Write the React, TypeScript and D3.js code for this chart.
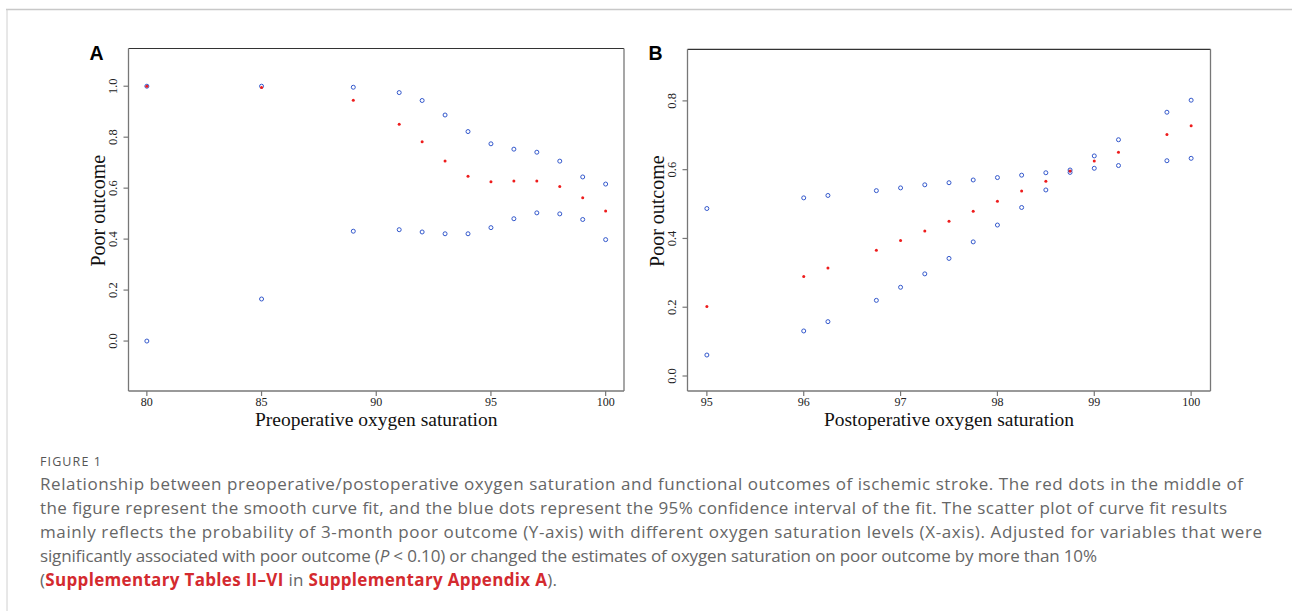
import React from "react";
import * as d3 from "d3";

// Panel A: preoperative oxygen saturation
const preX = [80, 85, 89, 91, 92, 93, 94, 95, 96, 97, 98, 99, 100];
const preFit = [1.0, 0.995, 0.945, 0.851, 0.782, 0.707, 0.647, 0.625, 0.628, 0.628, 0.606, 0.562, 0.51];
const preUpper = [1.0, 1.0, 0.996, 0.975, 0.944, 0.887, 0.822, 0.774, 0.753, 0.741, 0.706, 0.644, 0.616];
const preLower = [0.0, 0.165, 0.431, 0.437, 0.428, 0.421, 0.421, 0.445, 0.48, 0.503, 0.499, 0.477, 0.398];
const preTicksX = [80, 85, 90, 95, 100];
const preTicksY = [0, 0.2, 0.4, 0.6, 0.8, 1.0];

// Panel B: postoperative oxygen saturation
const postX = [95, 96, 96.25, 96.75, 97, 97.25, 97.5, 97.75, 98, 98.25, 98.5, 98.75, 99, 99.25, 99.75, 100];
const postFit = [0.202, 0.289, 0.314, 0.366, 0.394, 0.422, 0.45, 0.479, 0.508, 0.538, 0.566, 0.596, 0.625, 0.651, 0.702, 0.728];
const postUpper = [0.487, 0.518, 0.525, 0.539, 0.547, 0.556, 0.562, 0.57, 0.577, 0.584, 0.591, 0.599, 0.64, 0.687, 0.767, 0.802];
const postLower = [0.061, 0.131, 0.158, 0.22, 0.258, 0.297, 0.342, 0.39, 0.439, 0.49, 0.541, 0.592, 0.604, 0.612, 0.626, 0.633];
const postTicksX = [95, 96, 97, 98, 99, 100];
const postTicksY = [0, 0.2, 0.4, 0.6, 0.8];

const BLUE = "#3358cc";
const RED = "#ee1c1c";
const SERIF = "'Liberation Serif', 'Times New Roman', serif";

type PanelProps = {
  label: string;
  xs: number[];
  fit: number[];
  upper: number[];
  lower: number[];
  xDomain: [number, number];
  yDomain: [number, number];
  xTicks: number[];
  yTicks: number[];
  box: { left: number; right: number; top: number; bottom: number };
  xTitle: string;
};

const Panel = ({ label, xs, fit, upper, lower, xDomain, yDomain, xTicks, yTicks, box, xTitle }: PanelProps) => {
  const x = d3.scaleLinear().domain(xDomain).range([box.left, box.right]);
  const y = d3.scaleLinear().domain(yDomain).range([box.bottom, box.top]);
  const midX = (box.left + box.right) / 2;
  const midY = (box.top + box.bottom) / 2;

  return (
    <g>
      <text x={box.left - 39} y={box.top + 11} fontFamily="'Liberation Sans', Arial, sans-serif" fontWeight="bold" fontSize={19.5} fill="#000">
        {label}
      </text>

      {/* frame */}
      <line x1={box.left} x2={box.right} y1={box.top} y2={box.top} stroke="#333" strokeWidth={1.2} />
      <line x1={box.left} x2={box.left} y1={box.top} y2={box.bottom} stroke="#777" strokeWidth={1.3} />
      <line x1={box.right} x2={box.right} y1={box.top} y2={box.bottom} stroke="#777" strokeWidth={1.3} />
      <line x1={box.left} x2={box.right} y1={box.bottom} y2={box.bottom} stroke="#777" strokeWidth={1.3} />

      {/* x axis */}
      {xTicks.map((t) => (
        <g key={"xt" + t}>
          <line x1={x(t)} x2={x(t)} y1={box.bottom} y2={box.bottom + 5} stroke="#777" strokeWidth={1.2} />
          <text x={x(t)} y={box.bottom + 14.5} textAnchor="middle" fontFamily={SERIF} fontSize={12} fill="#222">
            {t}
          </text>
        </g>
      ))}
      <text x={midX} y={box.bottom + 35} textAnchor="middle" fontFamily={SERIF} fontSize={19.5} fill="#111">
        {xTitle}
      </text>

      {/* y axis */}
      {yTicks.map((t) => (
        <g key={"yt" + t}>
          <line x1={box.left - 5} x2={box.left} y1={y(t)} y2={y(t)} stroke="#777" strokeWidth={1.2} />
          <text transform={`translate(${box.left - 12},${y(t)}) rotate(-90)`} textAnchor="middle" fontFamily={SERIF} fontSize={12.5} fill="#222">
            {d3.format(".1f")(t)}
          </text>
        </g>
      ))}
      <text transform={`translate(${box.left - 24},${midY - 9}) rotate(-90)`} textAnchor="middle" fontFamily={SERIF} fontSize={20} fill="#111">
        Poor outcome
      </text>

      {/* confidence interval */}
      {xs.map((v, i) => (
        <g key={"ci" + i}>
          <circle cx={x(v)} cy={y(upper[i])} r={2} fill="none" stroke={BLUE} strokeWidth={1} />
          <circle cx={x(v)} cy={y(lower[i])} r={2} fill="none" stroke={BLUE} strokeWidth={1} />
        </g>
      ))}
      {/* smooth curve fit */}
      {xs.map((v, i) => (
        <circle key={"f" + i} cx={x(v)} cy={y(fit[i])} r={1.5} fill={RED} />
      ))}
    </g>
  );
};

const CAPTION = "'Open Sans', 'Lato', sans-serif";
const LINK = "#d42a2f";

const App = () => {
  return (
    <svg width={1292} height={611} style={{ position: "absolute", left: 0, top: 0, display: "block" }}>
      <rect x={0} y={0} width={1292} height={611} fill="#fff" />
      <line x1={6} x2={1292} y1={9.5} y2={9.5} stroke="#c8c8c8" strokeWidth={1.5} />
      <line x1={7} x2={7} y1={9.5} y2={611} stroke="#d0d0d0" strokeWidth={1} />

      <Panel
        label="A"
        xs={preX}
        fit={preFit}
        upper={preUpper}
        lower={preLower}
        xDomain={[79.2, 100.8]}
        yDomain={[-0.196, 1.148]}
        xTicks={preTicksX}
        yTicks={preTicksY}
        box={{ left: 128.5, right: 624, top: 48.5, bottom: 391 }}
        xTitle="Preoperative oxygen saturation"
      />
      <Panel
        label="B"
        xs={postX}
        fit={postFit}
        upper={postUpper}
        lower={postLower}
        xDomain={[94.8, 100.2]}
        yDomain={[-0.0436, 0.95]}
        xTicks={postTicksX}
        yTicks={postTicksY}
        box={{ left: 687.5, right: 1210.5, top: 49.3, bottom: 391 }}
        xTitle="Postoperative oxygen saturation"
      />

      <text x={40} y={466} fontFamily={CAPTION} fontSize={12.5} fill="#555" textLength={61} lengthAdjust="spacing">FIGURE 1</text>
      <g fontFamily={CAPTION} fontSize={17} fill="#666">
        <text x={40} y={490} textLength={1203} lengthAdjust="spacing">
          Relationship between preoperative/postoperative oxygen saturation and functional outcomes of ischemic stroke. The red dots in the middle of
        </text>
        <text x={40} y={514} textLength={1187} lengthAdjust="spacing">
          the figure represent the smooth curve fit, and the blue dots represent the 95% confidence interval of the fit. The scatter plot of curve fit results
        </text>
        <text x={40} y={538} textLength={1222} lengthAdjust="spacing">
          mainly reflects the probability of 3-month poor outcome (Y-axis) with different oxygen saturation levels (X-axis). Adjusted for variables that were
        </text>
        <text x={40} y={562} textLength={1057} lengthAdjust="spacing">
          significantly associated with poor outcome (<tspan fontStyle="italic">P</tspan> {"<"} 0.10) or changed the estimates of oxygen saturation on poor outcome by more than 10%
        </text>
        <text x={40} y={586} textLength={517} lengthAdjust="spacing">
          (<tspan fill={LINK} fontWeight="bold">Supplementary Tables II–VI</tspan> in <tspan fill={LINK} fontWeight="bold">Supplementary Appendix A</tspan>).
        </text>
      </g>
    </svg>
  );
};

export default App;
